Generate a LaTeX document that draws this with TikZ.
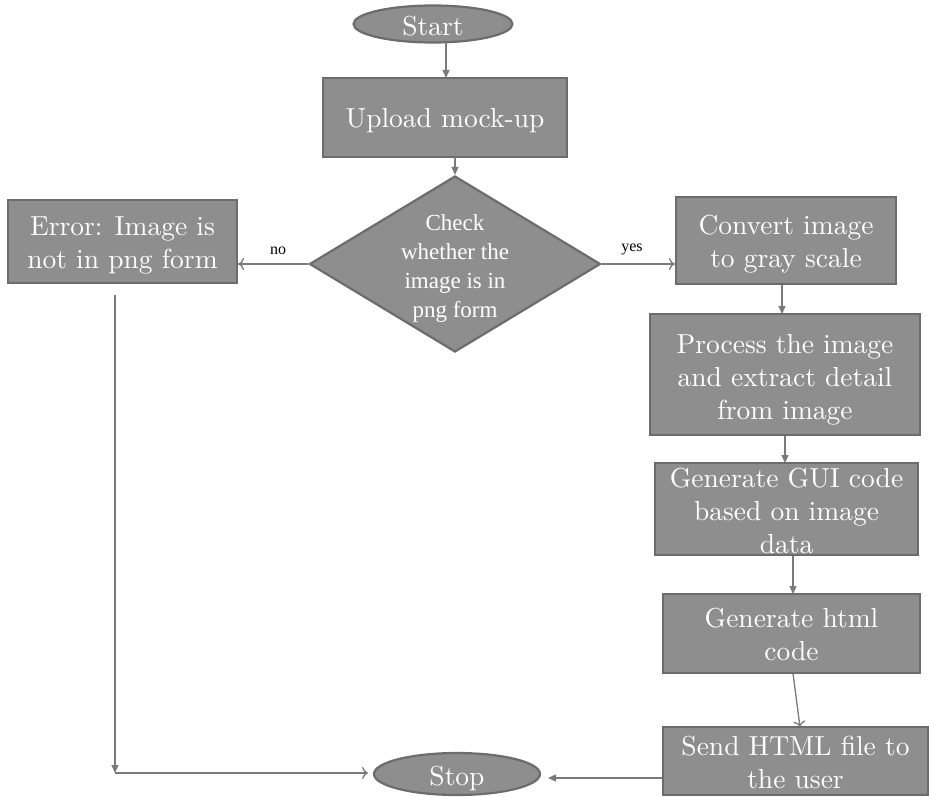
\documentclass[tikz,border=0pt]{standalone}
\usepackage{fontspec}
\newfontfamily\timesf{Liberation Serif}
\newfontfamily\cmten{lmroman10-regular}[Extension=.otf]
\usetikzlibrary{shapes.geometric,arrows.meta}
\definecolor{boxfill}{HTML}{8E8E8E}
\definecolor{boxline}{HTML}{6C6C6C}
\definecolor{conn}{HTML}{7A7A7A}
\begin{document}
\begin{tikzpicture}[x=1pt,y=-1pt,
  procbox/.style={draw=boxline,line width=2.2pt,fill=boxfill,rectangle,inner sep=0pt},
  term/.style={draw=boxline,line width=2.2pt,fill=boxfill,ellipse,inner sep=0pt},
  decbox/.style={draw=boxline,line width=2.2pt,fill=boxfill,diamond,inner sep=0pt},
  txt/.style={text=white,align=center,font=\cmten\fontsize{27.5}{33}\selectfont,inner sep=0pt},
  dtxt/.style={text=white,align=center,font=\timesf\fontsize{23}{29}\selectfont,inner sep=0pt},
  lbl/.style={text=black,font=\timesf\fontsize{16}{18}\selectfont,inner sep=0pt},
  fl/.style={draw=conn,line width=1.3pt,-{Triangle[length=8pt,width=7pt]}},
  op/.style={draw=conn,line width=1.3pt,-{To[length=6pt,width=12pt]}}
]
\useasboundingbox (0,0) rectangle (929,797);

% nodes
\node[term,minimum width=159pt,minimum height=37pt] (start) at (433,24) {};
\node[txt] (starttxt) at (433,26) {Start};

\node[procbox,minimum width=244pt,minimum height=79pt] (upload) at (445,117.5) {};
\node[txt] (uploadtxt) at (445,121) {Upload mock-up};

\node[decbox,minimum width=291pt,minimum height=176pt] (check) at (455,264) {};
\node[dtxt] (checktxt) at (455,269) {Check\\whether the\\image is in\\png form};

\node[procbox,minimum width=229pt,minimum height=83pt] (error) at (122.5,241.5) {};
\node[txt] (errortxt) at (122.5,245) {Error: Image is\\not in png form};

\node[procbox,minimum width=220pt,minimum height=87pt] (convert) at (786,240.5) {};
\node[txt] (converttxt) at (786,244.5) {Convert image\\to gray scale};

\node[procbox,minimum width=270pt,minimum height=121pt] (process) at (785,374.5) {};
\node[txt] (processtxt) at (785,379.5) {Process the image\\and extract detail\\from image};

\node[procbox,minimum width=263pt,minimum height=92pt] (gui) at (786.5,509) {};
\node[txt] (guitxt) at (786.5,511) {Generate GUI code\\based on image\\data};

\node[procbox,minimum width=257pt,minimum height=79pt] (html) at (791.5,633.5) {};
\node[txt] (htmltxt) at (791.5,634) {Generate html\\code};

\node[procbox,minimum width=265pt,minimum height=68pt] (send) at (795.5,761) {};
\node[txt] (sendtxt) at (795.5,762) {Send HTML file to\\the user};

\node[term,minimum width=166pt,minimum height=42pt] (stop) at (457,774) {};
\node[txt] (stoptxt) at (457,778) {Stop};

% labels
\node[lbl] (nolbl) at (278,251) {no};
\node[lbl] (yeslbl) at (632,249) {yes};

% helper coordinates
\coordinate (s1) at (446,42.5);
\coordinate (s2) at (446,78);
\coordinate (u1) at (455,157.5);
\coordinate (c1) at (782,284.5);
\coordinate (c2) at (782,314);
\coordinate (p1) at (785,435.5);
\coordinate (p2) at (785,463);
\coordinate (g1) at (793,555.5);
\coordinate (g2) at (793,594);
\coordinate (h1) at (793,673.5);
\coordinate (h2) at (800,727);
\coordinate (e1) at (115,295);
\coordinate (corner) at (115,773);
\coordinate (stopin) at (368,773);
\coordinate (sendout) at (662,778);
\coordinate (stopout) at (548,778);

% connectors
\draw[fl] (s1) -- (s2);
\draw[fl] (u1) -- (check.north);
\draw[op] (check.west) -- (error.east |- check.west);
\draw[op] (check.east) -- (convert.west |- check.east);
\draw[fl] (c1) -- (c2);
\draw[fl] (p1) -- (p2);
\draw[fl] (g1) -- (g2);
\draw[op] (h1) -- (h2);
\draw[fl] (e1) -- (corner);
\draw[op] (corner) -- (stopin);
\draw[fl] (sendout) -- (stopout);
\end{tikzpicture}
\end{document}
